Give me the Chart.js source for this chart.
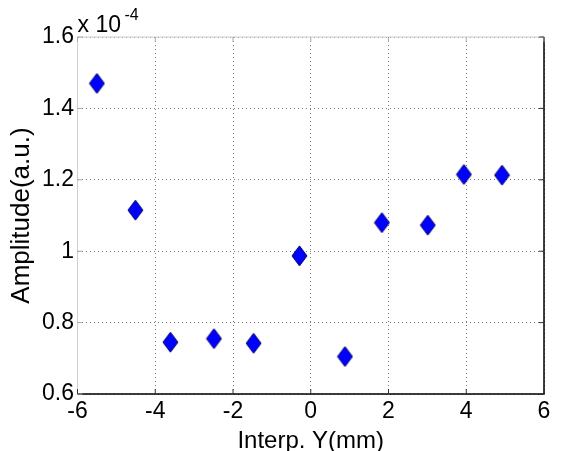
<!DOCTYPE html>
<html>
<head>
<meta charset="utf-8">
<script src="https://cdn.jsdelivr.net/npm/chart.js@4.4.1/dist/chart.umd.min.js"></script>
<style>
  body { margin: 0; background: #fff; }
  canvas { display: block; }
</style>
</head>
<body>
<canvas id="amp" width="566" height="451"></canvas>
<script>
// values, amplitude in units of 1e-4
const interpY = [-5.50, -4.51, -3.61, -2.49, -1.47, -0.29, 0.88, 1.83, 3.01, 3.94, 4.92];
const amplitude = [1.470, 1.115, 0.745, 0.755, 0.742, 0.987, 0.705, 1.080, 1.073, 1.215, 1.213];
const xTicks = [-6, -4, -2, 0, 2, 4, 6];
const yTicks = [0.6, 0.8, 1.0, 1.2, 1.4, 1.6];

const FONT = "'Liberation Sans', Arial, sans-serif";

// matlab style diamond, a bit taller than wide
var diamond = document.createElement('canvas');
diamond.width = 17;
diamond.height = 22;
var d = diamond.getContext('2d');
d.beginPath();
d.moveTo(8.5, 1);
d.lineTo(16, 11);
d.lineTo(8.5, 21);
d.lineTo(1, 11);
d.closePath();
d.fillStyle = '#0000ff';
d.fill();
d.strokeStyle = '#00006a';
d.lineWidth = 1;
d.stroke();

// box round the axes, inward tick marks and the exponent label
var boxPlugin = {
    id: 'box',
    afterDraw: function (chart) {
        var ctx = chart.ctx;
        var a = chart.chartArea;
        var xs = chart.scales.x, ys = chart.scales.y;
        ctx.save();
        ctx.lineWidth = 1;
        ctx.strokeStyle = '#cfcfcf';
        ctx.beginPath();
        ctx.moveTo(a.left, a.bottom);
        ctx.lineTo(a.left, a.top);
        ctx.lineTo(a.right, a.top);
        ctx.stroke();
        ctx.strokeStyle = '#000';
        ctx.lineWidth = 1.5;
        ctx.beginPath();
        ctx.moveTo(a.left, a.bottom);
        ctx.lineTo(a.right, a.bottom);
        ctx.lineTo(a.right, a.top);
        ctx.stroke();
        ctx.lineWidth = 1;
        yTicks.forEach(function (v) {
            var py = ys.getPixelForValue(v);
            ctx.strokeStyle = '#aaa';
            ctx.beginPath(); ctx.moveTo(a.left, py); ctx.lineTo(a.left + 5, py); ctx.stroke();
            ctx.strokeStyle = '#333';
            ctx.beginPath(); ctx.moveTo(a.right, py); ctx.lineTo(a.right - 5, py); ctx.stroke();
        });
        xTicks.forEach(function (v) {
            var px = xs.getPixelForValue(v);
            ctx.strokeStyle = '#333';
            ctx.beginPath(); ctx.moveTo(px, a.bottom); ctx.lineTo(px, a.bottom - 5); ctx.stroke();
            ctx.strokeStyle = '#aaa';
            ctx.beginPath(); ctx.moveTo(px, a.top); ctx.lineTo(px, a.top + 5); ctx.stroke();
        });
        ctx.fillStyle = '#000';
        ctx.textBaseline = 'alphabetic';
        ctx.textAlign = 'left';
        ctx.font = '23px ' + FONT;
        ctx.fillText('x 10', a.left, 32);
        ctx.font = '16px ' + FONT;
        ctx.fillText('-4', a.left + 47, 20);
        ctx.restore();
    }
};

var ctx = document.getElementById('amp').getContext('2d');
var chart = new Chart(ctx, {
    type: 'scatter',
    data: {
        datasets: [{
            label: 'Amplitude',
            data: interpY.map(function (x, i) { return { x: x, y: amplitude[i] }; }),
            pointStyle: diamond,
            pointRadius: 9
        }]
    },
    options: {
        responsive: false,
        animation: false,
        layout: { padding: { top: 37, right: 22, left: 0, bottom: 0 } },
        plugins: {
            legend: { display: false },
            tooltip: { enabled: false }
        },
        scales: {
            x: {
                type: 'linear',
                min: -6,
                max: 6,
                afterFit: function (s) { s.height = 57; },
                afterBuildTicks: function (s) { s.ticks = xTicks.map(function (v) { return { value: v }; }); },
                ticks: {
                    color: '#000',
                    padding: 4,
                    font: { family: FONT, size: 23 }
                },
                grid: {
                    drawTicks: false,
                    color: '#777'
                },
                border: { display: false, dash: [1, 3] },
                title: {
                    display: true,
                    text: 'Interp. Y(mm)',
                    color: '#000',
                    padding: { top: 0, bottom: 1 },
                    font: { family: FONT, size: 24, lineHeight: 0.7 }
                }
            },
            y: {
                min: 0.6,
                max: 1.6,
                afterFit: function (s) { s.width = 77.5; },
                afterBuildTicks: function (s) { s.ticks = yTicks.map(function (v) { return { value: v }; }); },
                ticks: {
                    color: '#000',
                    padding: 3.5,
                    font: { family: FONT, size: 23 },
                    callback: function (v) { return String(Math.round(v * 10) / 10); }
                },
                grid: {
                    drawTicks: false,
                    color: '#777'
                },
                border: { display: false, dash: [1, 3] },
                title: {
                    display: true,
                    text: 'Amplitude(a.u.)',
                    color: '#000',
                    padding: { top: 6, bottom: 0 },
                    font: { family: FONT, size: 26 }
                }
            }
        }
    },
    plugins: [boxPlugin]
});
</script>
</body>
</html>
